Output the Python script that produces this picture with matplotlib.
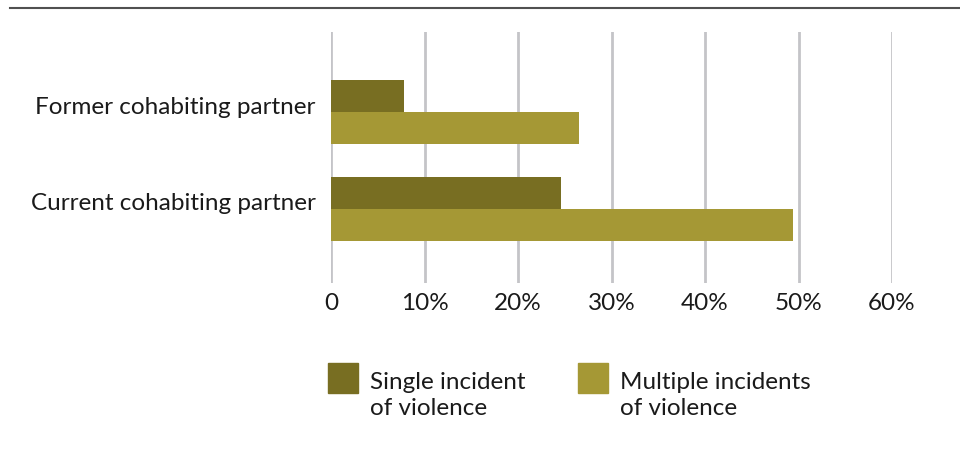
import matplotlib
matplotlib.use("Agg")
import matplotlib.pyplot as plt
from matplotlib.patches import Rectangle
from matplotlib.lines import Line2D
from matplotlib.transforms import ScaledTranslation
import numpy as np

plt.rcParams['font.family'] = ['Lato', 'DejaVu Sans']

categories = ['Current cohabiting partner', 'Former cohabiting partner']
single = [24.6, 7.8]
multiple = [49.4, 26.5]
series_names = ['Single incident\nof violence', 'Multiple incidents\nof violence']
colors = ['#786e22', '#a59835']
xticks = [0, 10, 20, 30, 40, 50, 60]
xticklabels = ['0', '10%', '20%', '30%', '40%', '50%', '60%']

W, H = 960, 450
fs = 17.5
fig = plt.figure(figsize=(9.6, 4.5), dpi=100)
ax = fig.add_axes([331 / W, 1 - 283 / H, (892 - 331) / W, (283 - 32) / H])

y = np.arange(len(categories))
h = 0.33
ax.barh(y + h / 2, single, height=h, color=colors[0], zorder=3)
ax.barh(y - h / 2, multiple, height=h, color=colors[1], zorder=3)

ax.set_xlim(0, 60)
ax.set_ylim(-0.763, 1.825)
ax.set_xticks(xticks)
ax.set_xticklabels(xticklabels, fontsize=fs, color='#1a1a1a')
ax.set_yticks(y)
ax.set_yticklabels(categories, fontsize=fs, color='#1a1a1a')
ax.tick_params(length=0)
ax.tick_params(axis='x', pad=7)
ax.tick_params(axis='y', pad=11)
ax.grid(axis='x', color='#c4c4c8', linewidth=2, zorder=0)
for s in ax.spines.values():
    s.set_visible(False)
# category labels sit a little above the group centre
shift = ScaledTranslation(0, 0.07, fig.dpi_scale_trans)
for lab in ax.get_yticklabels():
    lab.set_transform(lab.get_transform() + shift)

# top rule
fig.add_artist(Line2D([10 / W, 1], [1 - 8 / H, 1 - 8 / H], color='#505050', linewidth=1.5))

# legend
for i, (name, c) in enumerate(zip(series_names, colors)):
    x0 = [328, 578][i]
    fig.add_artist(Rectangle((x0 / W, 1 - 393 / H), 30 / W, 30 / H, color=c, transform=fig.transFigure))
    fig.text((x0 + 42) / W, 1 - 372 / H, name, fontsize=fs, color='#1a1a1a',
             va='top', ha='left', linespacing=1.3)

fig.savefig('out.png', dpi=100)
